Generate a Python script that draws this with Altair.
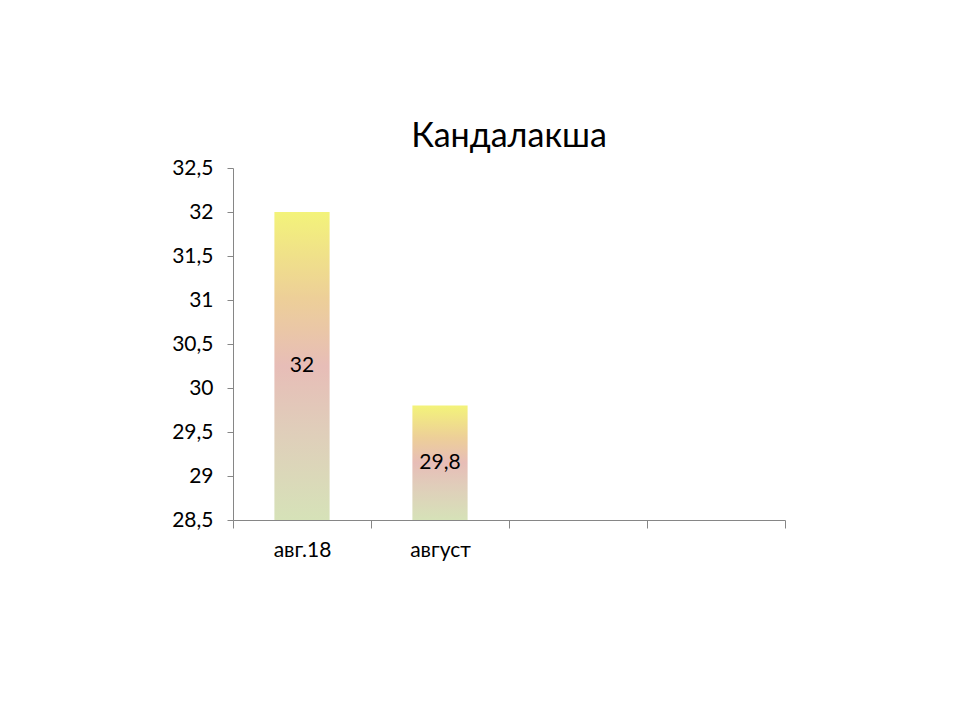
import altair as alt
import pandas as pd

categories = ["авг.18", "август", " ", "  "]
values = [32.0, 29.8, None, None]
title_text = "Кандалакша"
y_ticks = [28.5, 29.0, 29.5, 30.0, 30.5, 31.0, 31.5, 32.0, 32.5]

df = pd.DataFrame({"cat": categories, "val": values})
bars_df = df.dropna()

FONT = "Lato"
AXIS_COLOR = "#868686"

grad = alt.Gradient(
    gradient="linear",
    x1=0, x2=0, y1=1, y2=0,
    stops=[
        alt.GradientStop(offset=0.0, color="#D6E2B8"),
        alt.GradientStop(offset=0.3, color="#E0CDBA"),
        alt.GradientStop(offset=0.5, color="#E7BDB7"),
        alt.GradientStop(offset=0.72, color="#EDCF98"),
        alt.GradientStop(offset=1.0, color="#F3F37A"),
    ],
)

x_scale = alt.Scale(domain=categories, paddingInner=0, paddingOuter=0)

x_enc = alt.X(
    "cat:N",
    sort=categories,
    scale=x_scale,
    axis=alt.Axis(
        title=None, labelAngle=0, tickBand="extent", domainColor=AXIS_COLOR,
        tickColor=AXIS_COLOR, tickSize=8, labelFont=FONT, labelFontSize=21,
        labelColor="#000000", labelPadding=11, grid=False,
    ),
)
y_scale = alt.Scale(domain=[28.5, 32.5], zero=False, nice=False)

base = alt.Chart(bars_df)

bars = base.mark_bar(fill=grad, width=alt.RelativeBandSize(0.4)).encode(
    x=x_enc,
    y=alt.Y(
        "val:Q", scale=y_scale,
        axis=alt.Axis(
            title=None, values=y_ticks, labelExpr="replace(datum.label, '.', ',')",
            format="~g", domainColor=AXIS_COLOR, tickColor=AXIS_COLOR, tickSize=6,
            labelFont=FONT, labelFontSize=21, labelColor="#000000", labelPadding=14,
            grid=False,
        ),
    ),
    y2=alt.datum(28.5),
)

labels = base.transform_calculate(
    mid="(datum.val + 28.5) / 2",
    txt="replace(format(datum.val, '~g'), '.', ',')",
).mark_text(font=FONT, fontSize=21, color="#000000").encode(
    x=alt.X("cat:N", sort=categories, scale=x_scale),
    y=alt.Y("mid:Q", scale=y_scale),
    text="txt:N",
)

chart = alt.layer(bars, labels).properties(
    width=552,
    height=352,
    title=alt.TitleParams(
        title_text, font=FONT, fontSize=34, fontWeight="normal", color="#000000",
        anchor="middle", offset=3,
    ),
    autosize=alt.AutoSizeParams(type="none"),
    padding={"left": 225, "top": 160, "right": 167, "bottom": 150},
).configure_view(stroke=None)

chart.save("out.html", embed_options={"renderer": "svg", "actions": False})
